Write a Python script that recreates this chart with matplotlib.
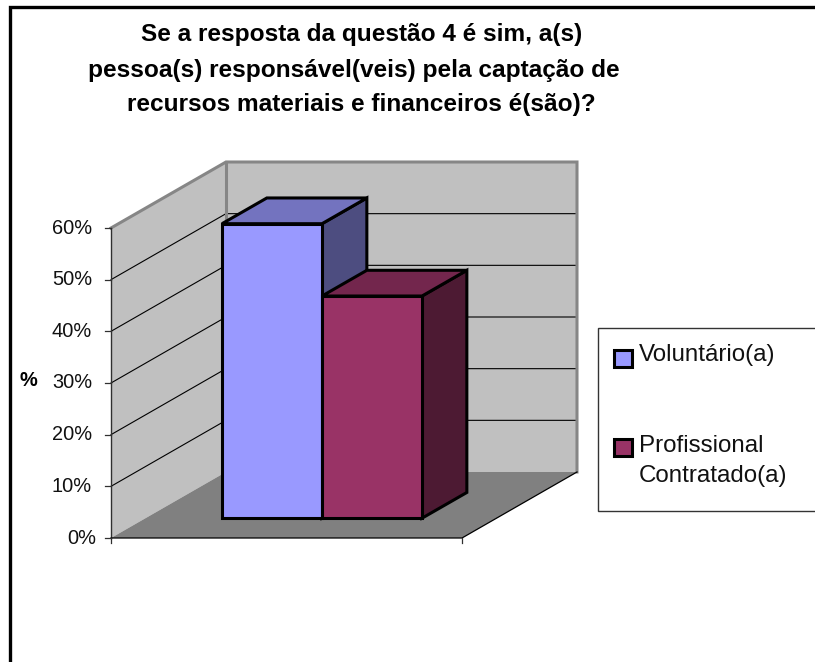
import matplotlib
matplotlib.use("Agg")
import matplotlib.pyplot as plt
from matplotlib.patches import Polygon, Rectangle

plt.rcParams['font.family'] = ['Liberation Sans', 'DejaVu Sans']

title_lines = ["Se a resposta da questão 4 é sim, a(s)",
               "pessoa(s) responsável(veis) pela captação de",
               "recursos materiais e financeiros é(são)?"]
series = ["Voluntário(a)", "Profissional\nContratado(a)"]
values = [57, 43]
face_colors = ["#9999FF", "#993366"]
top_colors = ["#7373BF", "#73264D"]
side_colors = ["#4D4D80", "#4D1A33"]
ticks = [0, 10, 20, 30, 40, 50, 60]
tick_labels = ["0%", "10%", "20%", "30%", "40%", "50%", "60%"]
axis_label = "%"

# oblique projection of (horizontal, depth, value) onto the page
X0, Y0, PX_PER_PCT = 111.0, 538.0, 310 / 60
FLOOR_W, DEPTH_X, DEPTH_Y = 351.0, 115.0, -66.0


def proj(h, d, v):
    return (X0 + h * FLOOR_W + d * DEPTH_X, Y0 + d * DEPTH_Y - v * PX_PER_PCT)


fig = plt.figure(figsize=(8.15, 6.62), dpi=100, facecolor="white")
ax = fig.add_axes([0, 0, 1, 1])
ax.set_xlim(0, 815)
ax.set_ylim(662, 0)
ax.axis("off")

vmax = ticks[-1]
# walls and floor
ax.add_patch(Polygon([proj(0, 0, 0), proj(0, 1, 0), proj(0, 1, vmax), proj(0, 0, vmax)], fc="#C0C0C0", ec="none", zorder=1))
ax.add_patch(Polygon([proj(0, 1, 0), proj(1, 1, 0), proj(1, 1, vmax), proj(0, 1, vmax)], fc="#C0C0C0", ec="none", zorder=1))
ax.add_patch(Polygon([proj(0, 0, 0), proj(1, 0, 0), proj(1, 1, 0), proj(0, 1, 0)], fc="#808080", ec="none", zorder=1))

# gridlines
for t in ticks[1:-1]:
    ax.plot(*zip(proj(0, 0, t), proj(0, 1, t), proj(1, 1, t)), color="black", lw=0.8, zorder=2)

# gray wall borders
ax.plot(*zip(proj(0, 0, vmax), proj(0, 1, vmax), proj(1, 1, vmax), proj(1, 1, 0)), color="#868686", lw=2.2, zorder=2, solid_joinstyle="miter")
ax.plot(*zip(proj(0, 1, vmax), proj(0, 1, 0)), color="#868686", lw=2.2, zorder=2)

# axes lines
ax.plot(*zip(proj(0, 0, 0), proj(0, 0, vmax)), color="#303030", lw=1.0, zorder=3)
ax.plot(*zip(proj(0, 0, 0), proj(1, 0, 0), proj(1, 1, 0)), color="black", lw=0.9, zorder=3)
for t, lab in zip(ticks, tick_labels):
    x, y = proj(0, 0, t)
    ax.plot([x - 6, x], [y, y], color="#303030", lw=0.9, zorder=3)
    ax.text(x - 19 + (4 if t == 0 else 0), y, lab, ha="right", va="center", fontsize=14.4, color="#111111")
for h in (0, 1):
    x, y = proj(h, 0, 0)
    ax.plot([x, x], [y, y + 5], color="#303030", lw=0.9, zorder=3)
ax.text(28, 381, axis_label, ha="center", va="center", fontsize=14.4, fontweight="bold")

# bars
BAR_W, D0, D1 = 100 / 351, 0.30, 0.69
for i, v in enumerate(values):
    h0 = (222 - X0 - D0 * DEPTH_X) / FLOOR_W + i * BAR_W
    h1 = h0 + BAR_W
    z = 5 + i
    kw = dict(ec="black", lw=2.2, joinstyle="miter", zorder=z)
    ax.add_patch(Polygon([proj(h1, D0, 0), proj(h1, D1, 0), proj(h1, D1, v), proj(h1, D0, v)], fc=side_colors[i], **kw))
    ax.add_patch(Polygon([proj(h0, D0, v), proj(h1, D0, v), proj(h1, D1, v), proj(h0, D1, v)], fc=top_colors[i], **kw))
    ax.add_patch(Polygon([proj(h0, D0, 0), proj(h1, D0, 0), proj(h1, D0, v), proj(h0, D0, v)], fc=face_colors[i], **kw))

# title
for line, cx, y in zip(title_lines, (362, 354, 361.5), (34, 70, 105)):
    ax.text(cx, y, line, ha="center", va="center", fontsize=17.55, fontweight="bold", color="black")

# legend
ax.add_patch(Rectangle((598, 328), 230, 183, fc="white", ec="#333333", lw=1.0, zorder=2))
for name, sy, ty in zip(series, (350, 439), (354.5, 461)):
    i = series.index(name)
    ax.add_patch(Rectangle((614, sy), 18, 17, fc=face_colors[i], ec="black", lw=2.2, zorder=3))
    ax.text(639, ty, name, ha="left", va="center", fontsize=17.4, color="#111111", linespacing=1.52, zorder=3)

# chart-area frame
ax.plot([9.5, 9.5, 815], [662, 7, 7], color="black", lw=2.4, solid_joinstyle="miter", zorder=10)

fig.savefig("out.png", dpi=100)
